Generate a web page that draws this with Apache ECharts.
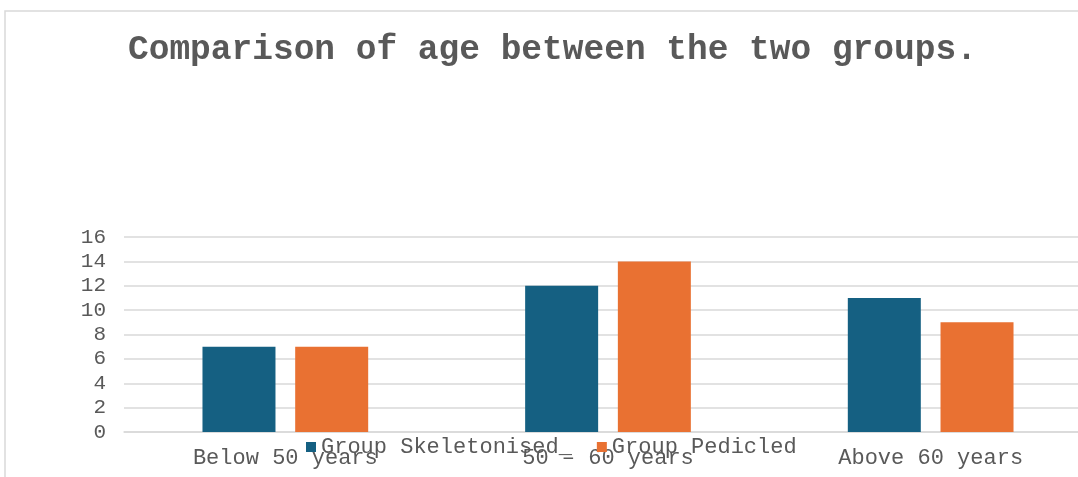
<!DOCTYPE html>
<html>
<head>
<meta charset="utf-8">
<script src="https://cdn.jsdelivr.net/npm/echarts@6/dist/echarts.min.js"></script>
<style>
  html, body { margin: 0; padding: 0; background: #fff; }
  #chart { width: 1078px; height: 477px; }
</style>
</head>
<body>
<div id="chart"></div>
<script>
var categories = ['Below 50 years', '50 \u2013 60 years', 'Above 60 years'];
var skeletonised = [7, 12, 11];
var pedicled = [7, 14, 9];
var yTicks = { min: 0, max: 16, interval: 2 };

var mono = '"Liberation Mono", "Courier New", monospace';
var grey = '#595959';

var myChart = echarts.init(document.getElementById('chart'));

var option = {
    backgroundColor: '#ffffff',
    animation: false,
    title: {
        text: 'Comparison of age between the two groups.',
        left: 123,
        top: 28,
        textStyle: { fontFamily: mono, fontSize: 34.5, fontWeight: 'bold', color: grey }
    },
    legend: {
        left: 306,
        top: 436,
        padding: 0,
        itemWidth: 10,
        itemHeight: 10,
        itemGap: 25,
        icon: 'rect',
        textStyle: { fontFamily: mono, fontSize: 22, color: grey }
    },
    // plot area runs past the right edge, as in the reference
    grid: { left: 124, right: -14, top: 237, bottom: 45, outerBoundsMode: 'none' },
    xAxis: {
        type: 'category',
        data: categories,
        axisTick: { show: false },
        axisLine: { lineStyle: { color: '#d9d9d9', width: 1.5 } },
        axisLabel: { fontFamily: mono, fontSize: 22, color: grey, margin: 15 }
    },
    yAxis: {
        type: 'value',
        min: yTicks.min,
        max: yTicks.max,
        interval: yTicks.interval,
        axisLine: { show: false },
        axisTick: { show: false },
        splitLine: { lineStyle: { color: '#d9d9d9', width: 1.5 } },
        axisLabel: { fontFamily: mono, fontSize: 21, color: grey, margin: 18 }
    },
    graphic: [
        {
            type: 'rect',
            shape: { x: 5, y: 11, width: 1200, height: 600 },
            style: { fill: 'none', stroke: '#d9d9d9', lineWidth: 1.5 },
            silent: true
        }
    ],
    series: [
        {
            name: 'Group Skeletonised_',
            type: 'bar',
            data: skeletonised,
            barWidth: 73,
            barGap: '27%',
            itemStyle: { color: '#156082' }
        },
        {
            name: 'Group Pedicled',
            type: 'bar',
            data: pedicled,
            barWidth: 73,
            itemStyle: { color: '#E97132' }
        }
    ]
};
myChart.setOption(option);
</script>
</body>
</html>
